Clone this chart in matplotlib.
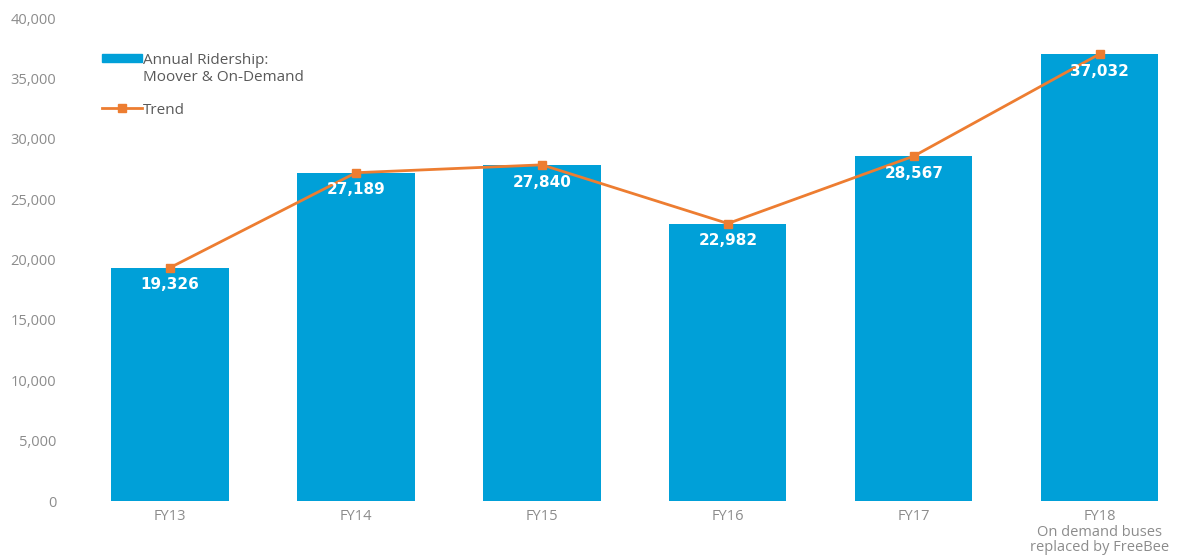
import numpy as np
import matplotlib
matplotlib.use("Agg")
from matplotlib import pyplot as plt
from matplotlib.patches import Patch
from matplotlib.lines import Line2D

##	chart data
years = ["FY13", "FY14", "FY15", "FY16", "FY17", "FY18\nOn demand buses\nreplaced by FreeBee"]
ridership = [19326, 27189, 27840, 22982, 28567, 37032]
y_ticks = [0, 5000, 10000, 15000, 20000, 25000, 30000, 35000, 40000]

bar_color = "#00A0D8"
line_color = "#ED7D31"
grey = "#8C8C8C"

fig = plt.figure(figsize=(11.87, 5.56), dpi=100)
ax = fig.add_axes([0.0649, 0.0989, 0.935, 0.8687])

x = np.arange(len(years))
ax.bar(x, ridership, width=0.63, color=bar_color, zorder=1)
ax.plot(x, ridership, color=line_color, lw=2, marker="s", ms=6, zorder=3)

for xi, v in zip(x, ridership):
	ax.text(xi, v - 800, f"{v:,}", ha="center", va="top", color="white",
			fontsize=11, fontweight="bold", family="DejaVu Sans", zorder=4)

ax.set_xlim(-0.5, 5.468)
ax.set_ylim(0, 40000)
ax.set_yticks(y_ticks)
ax.set_yticklabels([f"{t:,}" for t in y_ticks])
ax.set_xticks(x)
ax.set_xticklabels(years, linespacing=1.05)
for s in ax.spines.values():
	s.set_visible(False)
ax.tick_params(length=0, colors=grey, labelsize=10.5)
ax.tick_params(axis="y", pad=15)
ax.tick_params(axis="x", pad=6)
for lab in ax.get_xticklabels() + ax.get_yticklabels():
	lab.set_family("Open Sans")

##	legend in two parts so the bar patch sits on the first text line
leg_font = {"family": "Open Sans", "size": 11}
h1 = [Patch(color=bar_color), Patch(alpha=0)]
leg1 = ax.legend(h1, ["Annual Ridership:", "Moover & On-Demand"],
				loc="upper left", bbox_to_anchor=(0.01, 0.957), frameon=False,
				prop=leg_font, handlelength=2.6, handleheight=0.5,
				labelspacing=0.15, handletextpad=0.1)
for t in leg1.get_texts():
	t.set_color("#595959")
ax.add_artist(leg1)

h2 = [Line2D([], [], color=line_color, lw=2, marker="s", ms=6)]
leg2 = ax.legend(h2, ["Trend"], loc="upper left", bbox_to_anchor=(0.01, 0.853),
				frameon=False, prop=leg_font, handlelength=2.6, handletextpad=0.1)
for t in leg2.get_texts():
	t.set_color("#595959")

fig.savefig("out.png", dpi=100)
